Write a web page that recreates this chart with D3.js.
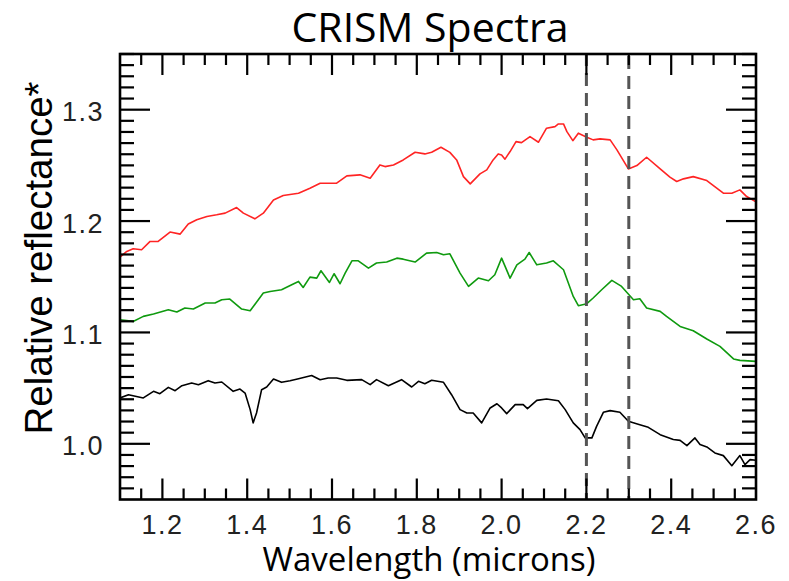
<!DOCTYPE html>
<html>
<head>
<meta charset="utf-8">
<script src="https://cdn.jsdelivr.net/npm/d3@7"></script>
<style>
  html, body { margin: 0; padding: 0; background: #fff; }
</style>
</head>
<body>
<div id="chart"></div>
<script>
// CRISM spectra, values
const xTicksMajor = [1.2, 1.4, 1.6, 1.8, 2.0, 2.2, 2.4, 2.6];
const yTicksMajor = [1.0, 1.1, 1.2, 1.3];
const markerLines = [2.2, 2.3];

// [wavelength (microns), relative reflectance]
const redSpectrum = [
  [1.100, 1.1677], [1.116, 1.1727], [1.131, 1.1751], [1.151, 1.1742], [1.171, 1.1817],
  [1.190, 1.1817], [1.218, 1.1901], [1.242, 1.1883], [1.261, 1.1973], [1.281, 1.2011],
  [1.305, 1.2041], [1.328, 1.2056], [1.348, 1.2071], [1.375, 1.2121], [1.391, 1.2071],
  [1.418, 1.2020], [1.438, 1.2071], [1.462, 1.2190], [1.485, 1.2229], [1.521, 1.2250],
  [1.548, 1.2295], [1.572, 1.2340], [1.611, 1.2340], [1.635, 1.2406], [1.666, 1.2415],
  [1.690, 1.2385], [1.713, 1.2504], [1.725, 1.2489], [1.745, 1.2504], [1.768, 1.2549],
  [1.796, 1.2618], [1.819, 1.2603], [1.835, 1.2618], [1.857, 1.2663], [1.878, 1.2617],
  [1.894, 1.2549], [1.910, 1.2399], [1.926, 1.2334], [1.949, 1.2424], [1.965, 1.2460],
  [1.980, 1.2549], [1.992, 1.2603], [2.000, 1.2594], [2.008, 1.2556], [2.020, 1.2624],
  [2.034, 1.2713], [2.047, 1.2704], [2.067, 1.2758], [2.087, 1.2708], [2.106, 1.2834],
  [2.126, 1.2848], [2.134, 1.2872], [2.146, 1.2872], [2.154, 1.2803], [2.168, 1.2722],
  [2.181, 1.2789], [2.201, 1.2753], [2.216, 1.2729], [2.232, 1.2738], [2.256, 1.2729],
  [2.272, 1.2639], [2.299, 1.2468], [2.319, 1.2498], [2.342, 1.2573], [2.374, 1.2468],
  [2.397, 1.2394], [2.413, 1.2355], [2.429, 1.2379], [2.452, 1.2399], [2.484, 1.2364],
  [2.523, 1.2250], [2.543, 1.2250], [2.562, 1.2280], [2.578, 1.2220], [2.600, 1.2172]
];

const greenSpectrum = [
  [1.100, 1.1114], [1.131, 1.1099], [1.155, 1.1144], [1.179, 1.1165], [1.214, 1.1204],
  [1.234, 1.1183], [1.253, 1.1219], [1.273, 1.1210], [1.301, 1.1264], [1.324, 1.1264],
  [1.340, 1.1293], [1.359, 1.1300], [1.387, 1.1210], [1.407, 1.1195], [1.438, 1.1354],
  [1.454, 1.1368], [1.481, 1.1383], [1.505, 1.1428], [1.521, 1.1458], [1.532, 1.1404],
  [1.548, 1.1497], [1.564, 1.1488], [1.574, 1.1554], [1.594, 1.1449], [1.605, 1.1527],
  [1.619, 1.1437], [1.631, 1.1533], [1.647, 1.1643], [1.662, 1.1643], [1.686, 1.1578],
  [1.705, 1.1623], [1.729, 1.1632], [1.753, 1.1667], [1.768, 1.1658], [1.796, 1.1632],
  [1.823, 1.1712], [1.847, 1.1718], [1.863, 1.1697], [1.878, 1.1706], [1.902, 1.1533],
  [1.922, 1.1413], [1.945, 1.1488], [1.969, 1.1464], [1.984, 1.1518], [2.000, 1.1667],
  [2.020, 1.1488], [2.036, 1.1607], [2.055, 1.1658], [2.065, 1.1718], [2.083, 1.1607],
  [2.106, 1.1623], [2.122, 1.1643], [2.146, 1.1563], [2.169, 1.1323], [2.181, 1.1240],
  [2.201, 1.1258], [2.216, 1.1309], [2.236, 1.1383], [2.260, 1.1467], [2.283, 1.1413],
  [2.311, 1.1293], [2.326, 1.1302], [2.342, 1.1219], [2.374, 1.1189], [2.389, 1.1144],
  [2.421, 1.1054], [2.452, 1.1015], [2.484, 1.0941], [2.515, 1.0875], [2.547, 1.0762],
  [2.562, 1.0749], [2.600, 1.0740]
];

const blackSpectrum = [
  [1.100, 1.0412], [1.120, 1.0441], [1.155, 1.0412], [1.179, 1.0471], [1.194, 1.0450],
  [1.214, 1.0507], [1.230, 1.0477], [1.246, 1.0522], [1.269, 1.0546], [1.285, 1.0531],
  [1.308, 1.0567], [1.324, 1.0546], [1.340, 1.0555], [1.367, 1.0471], [1.383, 1.0492],
  [1.395, 1.0456], [1.407, 1.0307], [1.414, 1.0188], [1.422, 1.0277], [1.434, 1.0486],
  [1.446, 1.0510], [1.462, 1.0582], [1.481, 1.0552], [1.501, 1.0567], [1.521, 1.0585],
  [1.552, 1.0614], [1.572, 1.0576], [1.591, 1.0591], [1.611, 1.0591], [1.635, 1.0570],
  [1.670, 1.0576], [1.690, 1.0531], [1.705, 1.0576], [1.733, 1.0522], [1.764, 1.0576],
  [1.788, 1.0510], [1.804, 1.0561], [1.819, 1.0540], [1.835, 1.0570], [1.863, 1.0552],
  [1.882, 1.0441], [1.902, 1.0307], [1.918, 1.0277], [1.933, 1.0277], [1.953, 1.0188],
  [1.973, 1.0322], [1.989, 1.0360], [2.000, 1.0322], [2.012, 1.0271], [2.032, 1.0352],
  [2.051, 1.0352], [2.061, 1.0316], [2.083, 1.0390], [2.106, 1.0403], [2.134, 1.0387],
  [2.150, 1.0307], [2.169, 1.0188], [2.185, 1.0128], [2.197, 1.0053], [2.213, 1.0053],
  [2.224, 1.0157], [2.240, 1.0283], [2.256, 1.0298], [2.279, 1.0283], [2.299, 1.0202],
  [2.326, 1.0172], [2.346, 1.0148], [2.374, 1.0082], [2.405, 1.0038], [2.421, 1.0031],
  [2.437, 0.9984], [2.456, 1.0053], [2.468, 0.9993], [2.484, 0.9972], [2.503, 0.9918],
  [2.523, 0.9894], [2.543, 0.9804], [2.562, 0.9894], [2.574, 0.9813], [2.586, 0.9858],
  [2.600, 0.9852]
];

const seriesList = [
  { name: "red", color: "#ff2424", values: redSpectrum },
  { name: "green", color: "#0f9a0f", values: greenSpectrum },
  { name: "black", color: "#000000", values: blackSpectrum }
];

const width = 789;
const height = 581;
const margin = { top: 54, right: 33, bottom: 81.5, left: 120 };

const svg = d3
  .select("#chart")
  .append("svg")
  .attr("width", width)
  .attr("height", height);

const x = d3.scaleLinear().domain([1.1, 2.6]).range([margin.left, width - margin.right]);
const y = d3.scaleLinear().domain([0.95, 1.35]).range([height - margin.bottom, margin.top]);

const x0 = x.range()[0], x1 = x.range()[1];
const y0 = y.range()[0], y1 = y.range()[1];

// Clip for the spectra
svg.append("clipPath")
  .attr("id", "plot-clip")
  .append("rect")
  .attr("x", x0)
  .attr("y", y1)
  .attr("width", x1 - x0)
  .attr("height", y0 - y1);

// --- Spectra ---
const line = d3.line()
  .x((d) => x(d[0]))
  .y((d) => y(d[1]));

svg.append("g")
  .attr("clip-path", "url(#plot-clip)")
  .selectAll("path")
  .data(seriesList)
  .enter()
  .append("path")
  .attr("d", (d) => line(d.values))
  .attr("fill", "none")
  .attr("stroke", (d) => d.color)
  .attr("stroke-width", 1.6)
  .attr("stroke-linejoin", "round");

// --- Dashed marker lines ---
svg.append("g")
  .selectAll("line")
  .data(markerLines)
  .enter()
  .append("line")
  .attr("x1", (d) => x(d))
  .attr("x2", (d) => x(d))
  .attr("y1", y1 - 1)
  .attr("y2", y0)
  .attr("stroke", "#555")
  .attr("stroke-width", 3)
  .attr("stroke-dasharray", "13,7")
  .attr("stroke-dashoffset", (d, i) => (i === 0 ? 0 : -3));

// --- Axes: ticks on all four sides, pointing inward ---
const xMinor = d3.range(1.15, 2.6, 0.05).filter((v) => !xTicksMajor.some((m) => Math.abs(m - v) < 1e-6));
const yMinor = d3.range(0.96, 1.35, 0.01).filter((v) => !yTicksMajor.some((m) => Math.abs(m - v) < 1e-6));

const xMajorLen = 21, xMinorLen = 11, yMajorLen = 30, yMinorLen = 14;

const ticks = svg.append("g").attr("class", "ticks").attr("stroke", "#000").attr("stroke-width", 2.2);

function addXTicks(vals, len) {
  ticks.selectAll(null).data(vals).enter().append("line")
    .attr("x1", (d) => x(d)).attr("x2", (d) => x(d))
    .attr("y1", y0).attr("y2", y0 - len);
  ticks.selectAll(null).data(vals).enter().append("line")
    .attr("x1", (d) => x(d)).attr("x2", (d) => x(d))
    .attr("y1", y1).attr("y2", y1 + len);
}
function addYTicks(vals, len) {
  ticks.selectAll(null).data(vals).enter().append("line")
    .attr("x1", x0).attr("x2", x0 + len)
    .attr("y1", (d) => y(d)).attr("y2", (d) => y(d));
  ticks.selectAll(null).data(vals).enter().append("line")
    .attr("x1", x1).attr("x2", x1 - len)
    .attr("y1", (d) => y(d)).attr("y2", (d) => y(d));
}
addXTicks(xMinor, xMinorLen);
addXTicks(xTicksMajor.filter((d) => d < 2.6), xMajorLen);
addYTicks(yMinor, yMinorLen);
addYTicks(yTicksMajor, yMajorLen);

// Frame
svg.append("rect")
  .attr("x", x0)
  .attr("y", y1)
  .attr("width", x1 - x0)
  .attr("height", y0 - y1)
  .attr("fill", "none")
  .attr("stroke", "#000")
  .attr("stroke-width", 2.6);

// Tick labels
const tickFont = "'Liberation Sans', Arial, sans-serif";
svg.append("g")
  .selectAll("text")
  .data(xTicksMajor)
  .enter()
  .append("text")
  .attr("x", (d) => x(d))
  .attr("y", 534)
  .attr("text-anchor", "middle")
  .style("font-family", tickFont)
  .style("font-size", "27px")
  .style("letter-spacing", "1.5px")
  .attr("fill", "#222")
  .text((d) => d3.format(".1f")(d));

svg.append("g")
  .selectAll("text")
  .data(yTicksMajor)
  .enter()
  .append("text")
  .attr("x", 104)
  .attr("y", (d) => y(d) + 11.5)
  .attr("text-anchor", "end")
  .style("font-family", tickFont)
  .style("font-size", "27px")
  .style("letter-spacing", "1.5px")
  .attr("fill", "#222")
  .text((d) => d3.format(".1f")(d));

// Title and axis titles
svg.append("text")
  .attr("x", 430)
  .attr("y", 42)
  .attr("text-anchor", "middle")
  .style("font-family", "'Open Sans', sans-serif")
  .style("font-size", "41px")
  .attr("fill", "#000")
  .text("CRISM Spectra");

svg.append("text")
  .attr("x", 429)
  .attr("y", 571)
  .attr("text-anchor", "middle")
  .style("font-family", "'Open Sans', sans-serif")
  .style("font-size", "33px")
  .attr("fill", "#000")
  .text("Wavelength (microns)");

svg.append("text")
  .attr("transform", "translate(52,258) rotate(-90)")
  .attr("text-anchor", "middle")
  .style("font-family", tickFont)
  .style("font-size", "38.5px")
  .attr("fill", "#000")
  .text("Relative reflectance*");
</script>
</body>
</html>
